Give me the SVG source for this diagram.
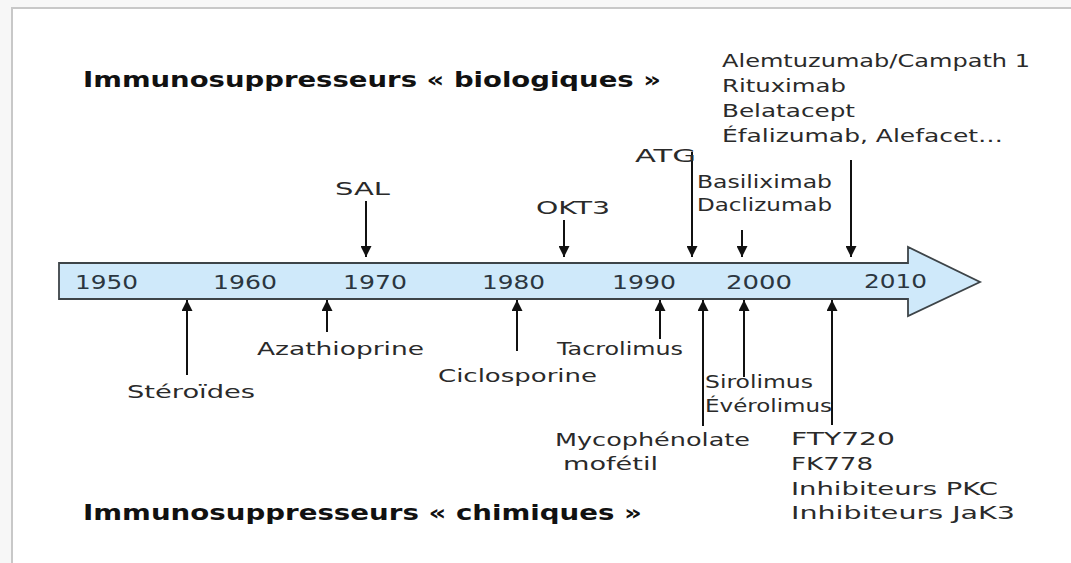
<svg xmlns="http://www.w3.org/2000/svg" width="1071" height="563" viewBox="0 0 1071 563">
<defs>
<marker id="ah" viewBox="0 0 10 10" refX="10" refY="5" markerWidth="5.5" markerHeight="5.5" orient="auto" markerUnits="strokeWidth">
<path d="M0,0 L10,5 L0,10 z" fill="#111"/>
</marker>
</defs>
<style>
.lbl{font-family:"DejaVu Sans","Liberation Sans",sans-serif;font-size:18px;fill:#2a2a2a}
.yr{font-family:"DejaVu Sans","Liberation Sans",sans-serif;font-size:20px;fill:#2b3640}
.hd{font-family:"DejaVu Sans","Liberation Sans",sans-serif;font-size:21px;font-weight:bold;fill:#111}
.con{stroke:#111;stroke-width:2;fill:none;marker-end:url(#ah)}
</style>
<rect x="0" y="0" width="1071" height="563" fill="#f7f7f7"/>
<rect x="12" y="8" width="1070" height="556" fill="#ffffff" stroke="#c8c8c8" stroke-width="2"/>

<g id="timeline">
<path d="M59,263 L908,263 L908,247 L980,282 L908,316 L908,299 L59,299 Z" fill="#cfe9fa" stroke="#3d4448" stroke-width="1.8" stroke-linejoin="miter"/>
<text class="yr" x="75" y="289" textLength="63" lengthAdjust="spacingAndGlyphs">1950</text>
<text class="yr" x="213" y="289" textLength="64" lengthAdjust="spacingAndGlyphs">1960</text>
<text class="yr" x="343" y="289" textLength="64" lengthAdjust="spacingAndGlyphs">1970</text>
<text class="yr" x="482" y="289" textLength="63" lengthAdjust="spacingAndGlyphs">1980</text>
<text class="yr" x="612" y="289" textLength="64" lengthAdjust="spacingAndGlyphs">1990</text>
<text class="yr" x="726" y="289" textLength="66" lengthAdjust="spacingAndGlyphs">2000</text>
<text class="yr" x="864" y="288" textLength="63" lengthAdjust="spacingAndGlyphs">2010</text>
</g>

<g id="heading-bio"><text class="hd" x="83" y="87" textLength="578" lengthAdjust="spacingAndGlyphs">Immunosuppresseurs « biologiques »</text></g>
<g id="heading-chim"><text class="hd" x="83" y="520" textLength="559" lengthAdjust="spacingAndGlyphs">Immunosuppresseurs « chimiques »</text></g>

<g id="connectors">
<line class="con" x1="366" y1="201" x2="366" y2="257"/>
<line class="con" x1="564" y1="220" x2="564" y2="257"/>
<line class="con" x1="692" y1="152" x2="692" y2="257"/>
<line class="con" x1="742" y1="230" x2="742" y2="257"/>
<line class="con" x1="851" y1="160" x2="851" y2="257"/>
<line class="con" x1="187" y1="375" x2="187" y2="300"/>
<line class="con" x1="327" y1="332" x2="327" y2="300"/>
<line class="con" x1="517" y1="351" x2="517" y2="300"/>
<line class="con" x1="660" y1="339" x2="660" y2="300"/>
<line class="con" x1="703" y1="426" x2="703" y2="300"/>
<line class="con" x1="744" y1="377" x2="744" y2="300"/>
<line class="con" x1="832" y1="425" x2="832" y2="300"/>
</g>

<g id="n-sal"><text class="lbl" x="335" y="195" textLength="55" lengthAdjust="spacingAndGlyphs">SAL</text></g>
<g id="n-okt3"><text class="lbl" x="536" y="214" textLength="74" lengthAdjust="spacingAndGlyphs">OKT3</text></g>
<g id="n-atg"><text class="lbl" x="635" y="162" textLength="61" lengthAdjust="spacingAndGlyphs">ATG</text></g>
<g id="n-basi">
<text class="lbl" x="697" y="188" textLength="135" lengthAdjust="spacingAndGlyphs">Basiliximab</text>
<text class="lbl" x="697" y="211" textLength="135" lengthAdjust="spacingAndGlyphs">Daclizumab</text>
</g>
<g id="n-alem">
<text class="lbl" x="722" y="67" textLength="308" lengthAdjust="spacingAndGlyphs">Alemtuzumab/Campath 1</text>
<text class="lbl" x="722" y="92" textLength="124" lengthAdjust="spacingAndGlyphs">Rituximab</text>
<text class="lbl" x="722" y="117" textLength="133" lengthAdjust="spacingAndGlyphs">Belatacept</text>
<text class="lbl" x="722" y="142" textLength="281" lengthAdjust="spacingAndGlyphs">Éfalizumab, Alefacet…</text>
</g>
<g id="n-ster"><text class="lbl" x="127" y="398" textLength="128" lengthAdjust="spacingAndGlyphs">Stéroïdes</text></g>
<g id="n-aza"><text class="lbl" x="257" y="355" textLength="167" lengthAdjust="spacingAndGlyphs">Azathioprine</text></g>
<g id="n-cic"><text class="lbl" x="438" y="382" textLength="159" lengthAdjust="spacingAndGlyphs">Ciclosporine</text></g>
<g id="n-tac"><text class="lbl" x="557" y="355" textLength="126" lengthAdjust="spacingAndGlyphs">Tacrolimus</text></g>
<g id="n-myco">
<text class="lbl" x="555" y="446" textLength="195" lengthAdjust="spacingAndGlyphs">Mycophénolate</text>
<text class="lbl" x="563" y="470" textLength="95" lengthAdjust="spacingAndGlyphs">mofétil</text>
</g>
<g id="n-siro">
<text class="lbl" x="705" y="388" textLength="108" lengthAdjust="spacingAndGlyphs">Sirolimus</text>
<text class="lbl" x="705" y="412" textLength="127" lengthAdjust="spacingAndGlyphs">Évérolimus</text>
</g>
<g id="n-fty">
<text class="lbl" x="791" y="445" textLength="104" lengthAdjust="spacingAndGlyphs">FTY720</text>
<text class="lbl" x="791" y="470" textLength="82" lengthAdjust="spacingAndGlyphs">FK778</text>
<text class="lbl" x="791" y="495" textLength="207" lengthAdjust="spacingAndGlyphs">Inhibiteurs PKC</text>
<text class="lbl" x="791" y="519" textLength="224" lengthAdjust="spacingAndGlyphs">Inhibiteurs JaK3</text>
</g>
</svg>
